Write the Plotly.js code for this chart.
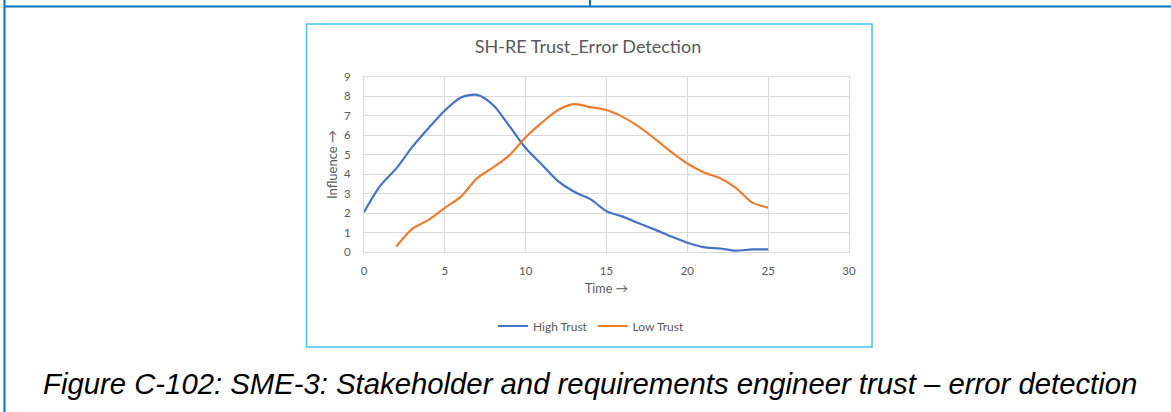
<!DOCTYPE html>
<html>
<head>
<meta charset="utf-8">
<script src="https://cdn.plot.ly/plotly-3.0.1.min.js"></script>
<style>
  html, body { margin: 0; padding: 0; background: #fff; }
  #myDiv { width: 1171px; height: 412px; }
</style>
</head>
<body>
<div id="myDiv"></div>
<script>
// Time steps and influence values
const highTime = [0, 1, 2, 3, 4, 5, 6, 7, 8, 9, 10, 11, 12, 13, 14, 15, 16, 17, 18, 19, 20, 21, 22, 23, 24, 25];
const highTrust = [2.05, 3.4, 4.3, 5.42, 6.38, 7.28, 7.95, 8.08, 7.55, 6.47, 5.35, 4.5, 3.65, 3.1, 2.72, 2.1, 1.82, 1.48, 1.15, 0.8, 0.48, 0.25, 0.18, 0.07, 0.13, 0.13];

const lowTime = [2, 3, 4, 5, 6, 7, 8, 9, 10, 11, 12, 13, 14, 15, 16, 17, 18, 19, 20, 21, 22, 23, 24, 25];
const lowTrust = [0.28, 1.2, 1.65, 2.27, 2.85, 3.8, 4.35, 4.98, 5.9, 6.65, 7.3, 7.6, 7.45, 7.3, 6.95, 6.45, 5.82, 5.15, 4.55, 4.1, 3.8, 3.3, 2.55, 2.28];

const seriesNames = ['High Trust', 'Low Trust'];
const seriesColors = ['#4472C4', '#ED7D31'];

const chartTitle = 'SH-RE Trust_Error Detection';
const xTitle = 'Time →';
const yTitle = 'Influence →';
const caption = 'Figure C-102: SME-3: Stakeholder and requirements engineer trust – error detection';

// plot area in page pixels, used to place the frame shapes
const L = 364, R = 849, T = 77, B = 252;
const W = 1171, H = 412;
const px = p => (p - L) / (R - L);
const py = p => (B - p) / (B - T);

const textGrey = '#595959';
const gridGrey = '#D9D9D9';
const frameBlue = '#0070C0';

const traces = [
    {
        x: highTime, y: highTrust, type: 'scatter', mode: 'lines', name: seriesNames[0],
        line: { color: seriesColors[0], width: 2.2, shape: 'spline', smoothing: 0.8 }
    },
    {
        x: lowTime, y: lowTrust, type: 'scatter', mode: 'lines', name: seriesNames[1],
        line: { color: seriesColors[1], width: 2.2, shape: 'spline', smoothing: 0.8 }
    }
];

const axisCommon = {
    showgrid: true, gridcolor: gridGrey, gridwidth: 1,
    showline: true, linecolor: gridGrey, linewidth: 1, mirror: true,
    zeroline: false, ticks: '',
    tickfont: { family: 'Lato, sans-serif', size: 11.5, color: textGrey }
};

const layout = {
    width: W, height: H,
    margin: { l: L, r: W - R, t: T, b: H - B, pad: 0 },
    paper_bgcolor: '#fff', plot_bgcolor: '#fff',
    font: { family: 'Lato, sans-serif', color: textGrey },
    showlegend: true,
    title: {
        text: chartTitle,
        font: { family: 'Lato, sans-serif', size: 18, color: textGrey },
        xref: 'container', yref: 'container',
        x: 588 / W, y: 1 - 47 / H, xanchor: 'center', yanchor: 'middle'
    },
    xaxis: Object.assign({}, axisCommon, {
        range: [0, 30], tick0: 0, dtick: 5, ticklabelstandoff: 8,
        title: { text: xTitle, standoff: 8, font: { family: 'Lato, sans-serif', size: 12.5, color: textGrey } }
    }),
    yaxis: Object.assign({}, axisCommon, {
        range: [0, 9], tick0: 0, dtick: 1, ticklabelstandoff: 10,
        title: { text: yTitle, standoff: 3, font: { family: 'Lato, sans-serif', size: 13, color: textGrey } }
    }),
    legend: {
        orientation: 'h', x: px(591), y: py(326), xanchor: 'center', yanchor: 'middle',
        font: { family: 'Lato, sans-serif', size: 12, color: textGrey },
        itemwidth: 30, tracegroupgap: 0, bgcolor: 'rgba(0,0,0,0)'
    },
    shapes: [
        // document frame
        { type: 'line', xref: 'paper', yref: 'paper', x0: px(4), x1: px(W), y0: py(6.5), y1: py(6.5), line: { color: frameBlue, width: 2 } },
        { type: 'line', xref: 'paper', yref: 'paper', x0: px(4.5), x1: px(4.5), y0: py(0), y1: py(H), line: { color: frameBlue, width: 2 } },
        { type: 'line', xref: 'paper', yref: 'paper', x0: px(590), x1: px(590), y0: py(0), y1: py(6.5), line: { color: frameBlue, width: 2 } },
        // chart box
        { type: 'rect', xref: 'paper', yref: 'paper', x0: px(306.5), x1: px(872), y0: py(24), y1: py(347), line: { color: '#45C2F0', width: 1.5 }, fillcolor: 'rgba(0,0,0,0)' }
    ],
    annotations: [
        {
            text: '<i>' + caption + '</i>', xref: 'paper', yref: 'paper',
            x: px(590), y: py(383), xanchor: 'center', yanchor: 'middle', showarrow: false,
            font: { family: 'Liberation Sans, Arial, sans-serif', size: 29.3, color: '#000' }
        }
    ]
};

Plotly.newPlot('myDiv', traces, layout, { staticPlot: true, displayModeBar: false });
</script>
</body>
</html>
